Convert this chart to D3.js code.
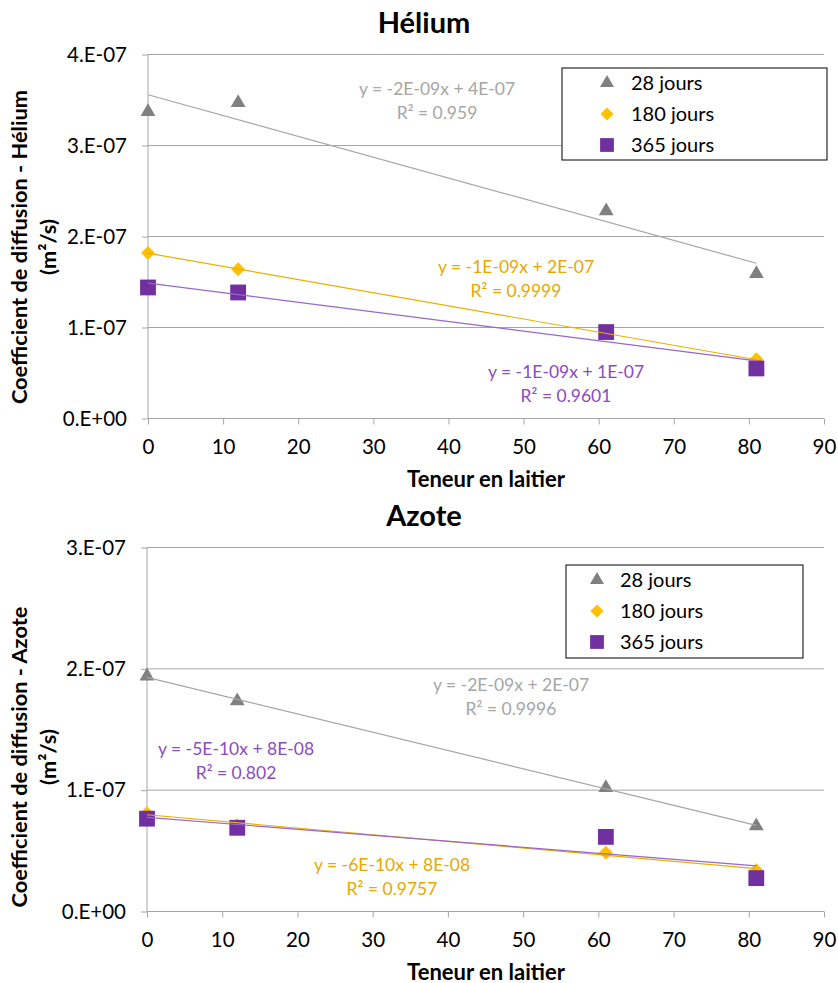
<!DOCTYPE html>
<html><head><meta charset="utf-8">
<script src="https://cdn.jsdelivr.net/npm/d3@7"></script>
<style>
html,body{margin:0;padding:0;background:#fff;}
text{font-family:Lato,"Open Sans",sans-serif;}
</style></head>
<body><svg id="c" width="838" height="983"></svg>
<script>
// ---- data ----
const xValues = [0, 12, 61, 81];
const seriesNames = ["28 jours", "180 jours", "365 jours"];
const heliumJ28  = [3.37e-7, 3.47e-7, 2.28e-7, 1.59e-7];
const heliumJ180 = [1.82e-7, 1.64e-7, 0.93e-7, 0.65e-7];
const heliumJ365 = [1.44e-7, 1.385e-7, 0.95e-7, 0.55e-7];
const azoteJ28  = [1.94e-7, 1.735e-7, 1.02e-7, 0.705e-7];
const azoteJ180 = [0.81e-7, 0.71e-7, 0.485e-7, 0.34e-7];
const azoteJ365 = [0.765e-7, 0.69e-7, 0.615e-7, 0.275e-7];
const xTicks = [0, 10, 20, 30, 40, 50, 60, 70, 80, 90];
const heliumYTicks = [0, 1e-7, 2e-7, 3e-7, 4e-7];
const heliumYTickLabels = ["0.E+00", "1.E-07", "2.E-07", "3.E-07", "4.E-07"];
const azoteYTicks = [0, 1e-7, 2e-7, 3e-7];
const azoteYTickLabels = ["0.E+00", "1.E-07", "2.E-07", "3.E-07"];
const heliumEquations = [["y = -2E-09x + 4E-07", "R² = 0.959"], ["y = -1E-09x + 2E-07", "R² = 0.9999"], ["y = -1E-09x + 1E-07", "R² = 0.9601"]];
const azoteEquations = [["y = -2E-09x + 2E-07", "R² = 0.9996"], ["y = -6E-10x + 8E-08", "R² = 0.9757"], ["y = -5E-10x + 8E-08", "R² = 0.802"]];
const titles = ["Hélium", "Azote"];
const xAxisTitle = "Teneur en laitier";
const yAxisTitles = ["Coefficient de diffusion - Hélium", "Coefficient de diffusion - Azote"];
const yUnit = "(m²/s)";

// ---- styles ----
const markerColors = ["#808080", "#ffc000", "#7030a0"];
const lineColors = ["#a6a6a6", "#e8b000", "#9966cc"];
const labelColors = ["#a6a6a6", "#e6a800", "#8a4cc0"];
const gridColor = "#a6a6a6";

const svg = d3.select("#c");

function regression(xs, ys) {
  const n = xs.length, mx = d3.mean(xs), my = d3.mean(ys);
  let sxy = 0, sxx = 0;
  for (let i = 0; i < n; i++) { sxy += (xs[i]-mx)*(ys[i]-my); sxx += (xs[i]-mx)**2; }
  const b = sxy / sxx; return {b, a: my - b*mx};
}

function drawPanel(cfg) {
  const g = svg.append("g");
  const x = d3.scaleLinear().domain([0, 90]).range([cfg.left, cfg.right]);
  const y = d3.scaleLinear().domain([0, d3.max(cfg.yTicks)]).range([cfg.bottom, cfg.top]);

  // gridlines
  g.append("g").selectAll("line").data(cfg.yTicks.filter(d => d > 0)).join("line")
    .attr("x1", cfg.left).attr("x2", cfg.right)
    .attr("y1", d => y(d)).attr("y2", d => y(d))
    .attr("stroke", gridColor).attr("stroke-width", 1);

  // x axis
  const xAxis = d3.axisBottom(x).tickValues(xTicks).tickSize(6).tickPadding(15);
  const xa = g.append("g").attr("transform", `translate(0,${cfg.bottom})`).call(xAxis);
  xa.select(".domain").attr("stroke", gridColor).attr("d", `M${cfg.left},0H${cfg.right}`);
  xa.selectAll(".tick line").attr("stroke", gridColor);
  xa.selectAll(".tick text").attr("font-size", 20.5).attr("fill", "#000").style("font-family", "Lato");

  // y axis
  const yAxis = d3.axisLeft(y).tickValues(cfg.yTicks).tickSize(6).tickPadding(15)
    .tickFormat((d, i) => cfg.yTickLabels[i]);
  const ya = g.append("g").attr("transform", `translate(${cfg.left},0)`).call(yAxis);
  ya.select(".domain").attr("stroke", gridColor).attr("d", `M0,${cfg.top}V${cfg.bottom}`);
  ya.selectAll(".tick line").attr("stroke", gridColor);
  ya.selectAll(".tick text").attr("font-size", 20.5).attr("fill", "#000").style("font-family", "Lato");

  // markers
  const sym = [d3.symbolTriangle, d3.symbolDiamond2, d3.symbolSquare];
  const sizes = [95, 125, 250];
  cfg.series.forEach((ys, si) => {
    g.append("g").selectAll("path").data(ys).join("path")
      .attr("d", d3.symbol(sym[si], sizes[si]))
      .attr("transform", (d, i) => `translate(${x(xValues[i])},${y(d)})`)
      .attr("fill", markerColors[si]);
  });
  // trendlines
  cfg.series.forEach((ys, si) => {
    const r = regression(xValues, ys);
    const x0 = d3.min(xValues), x1 = d3.max(xValues);
    g.append("line")
      .attr("x1", x(x0)).attr("y1", y(r.a + r.b*x0))
      .attr("x2", x(x1)).attr("y2", y(r.a + r.b*x1))
      .attr("stroke", lineColors[si]).attr("stroke-width", 1.2);
  });
  // equation labels
  cfg.equations.forEach((eq, si) => {
    const p = cfg.eqPos[si];
    const t = g.append("text").attr("text-anchor", "middle").attr("fill", labelColors[si]).attr("font-size", 17.5);
    t.append("tspan").attr("x", p[0]).attr("y", p[1]).text(eq[0]);
    t.append("tspan").attr("x", p[0]).attr("y", p[1] + 24).text(eq[1]);
  });

  // legend
  const L = cfg.legend;
  g.append("rect").attr("x", L.x).attr("y", L.y).attr("width", L.w).attr("height", L.h)
    .attr("fill", "#fff").attr("stroke", "#000").attr("stroke-width", 1);
  const lsizes = [85, 110, 190];
  seriesNames.forEach((name, si) => {
    const cy = L.y + 15 + si * 31;
    g.append("path").attr("d", d3.symbol(sym[si], lsizes[si]))
      .attr("transform", `translate(${L.mx},${cy})`).attr("fill", markerColors[si]);
    g.append("text").attr("x", L.tx).attr("y", cy).attr("dy", "0.35em")
      .attr("font-size", 20).attr("fill", "#000").text(name);
  });

  // titles
  g.append("text").attr("x", 424).attr("y", cfg.titleY).attr("text-anchor", "middle")
    .attr("font-size", 29).attr("font-weight", "bold").attr("fill", "#000").text(cfg.title);
  g.append("text").attr("x", 486).attr("y", cfg.bottom + 68).attr("text-anchor", "middle")
    .attr("font-size", 22).attr("font-weight", "bold").attr("fill", "#000").text(xAxisTitle);
  const yl = g.append("text").attr("transform", `translate(27,${cfg.yLabelMid}) rotate(-90)`)
    .attr("text-anchor", "middle").attr("font-size", 21.8).attr("font-weight", "bold").attr("fill", "#000");
  yl.append("tspan").attr("x", 0).attr("y", 0).text(cfg.yTitle);
  yl.append("tspan").attr("x", 0).attr("y", 29).text(yUnit);
}

drawPanel({
  left: 148, right: 824, top: 54.5, bottom: 418.5,
  yTicks: heliumYTicks, yTickLabels: heliumYTickLabels,
  series: [heliumJ28, heliumJ180, heliumJ365],
  equations: heliumEquations,
  eqPos: [[437, 95], [516, 273], [566, 378]],
  legend: {x: 562, y: 68, w: 265, h: 92, mx: 607, tx: 631},
  title: titles[0], titleY: 33, yTitle: yAxisTitles[0], yLabelMid: 247
});
drawPanel({
  left: 147, right: 824, top: 547.5, bottom: 911.5,
  yTicks: azoteYTicks, yTickLabels: azoteYTickLabels,
  series: [azoteJ28, azoteJ180, azoteJ365],
  equations: azoteEquations,
  eqPos: [[511, 691], [392, 871], [236, 755]],
  legend: {x: 566, y: 565, w: 237, h: 93, mx: 597, tx: 620},
  title: titles[1], titleY: 526, yTitle: yAxisTitles[1], yLabelMid: 757
});
</script></body></html>
